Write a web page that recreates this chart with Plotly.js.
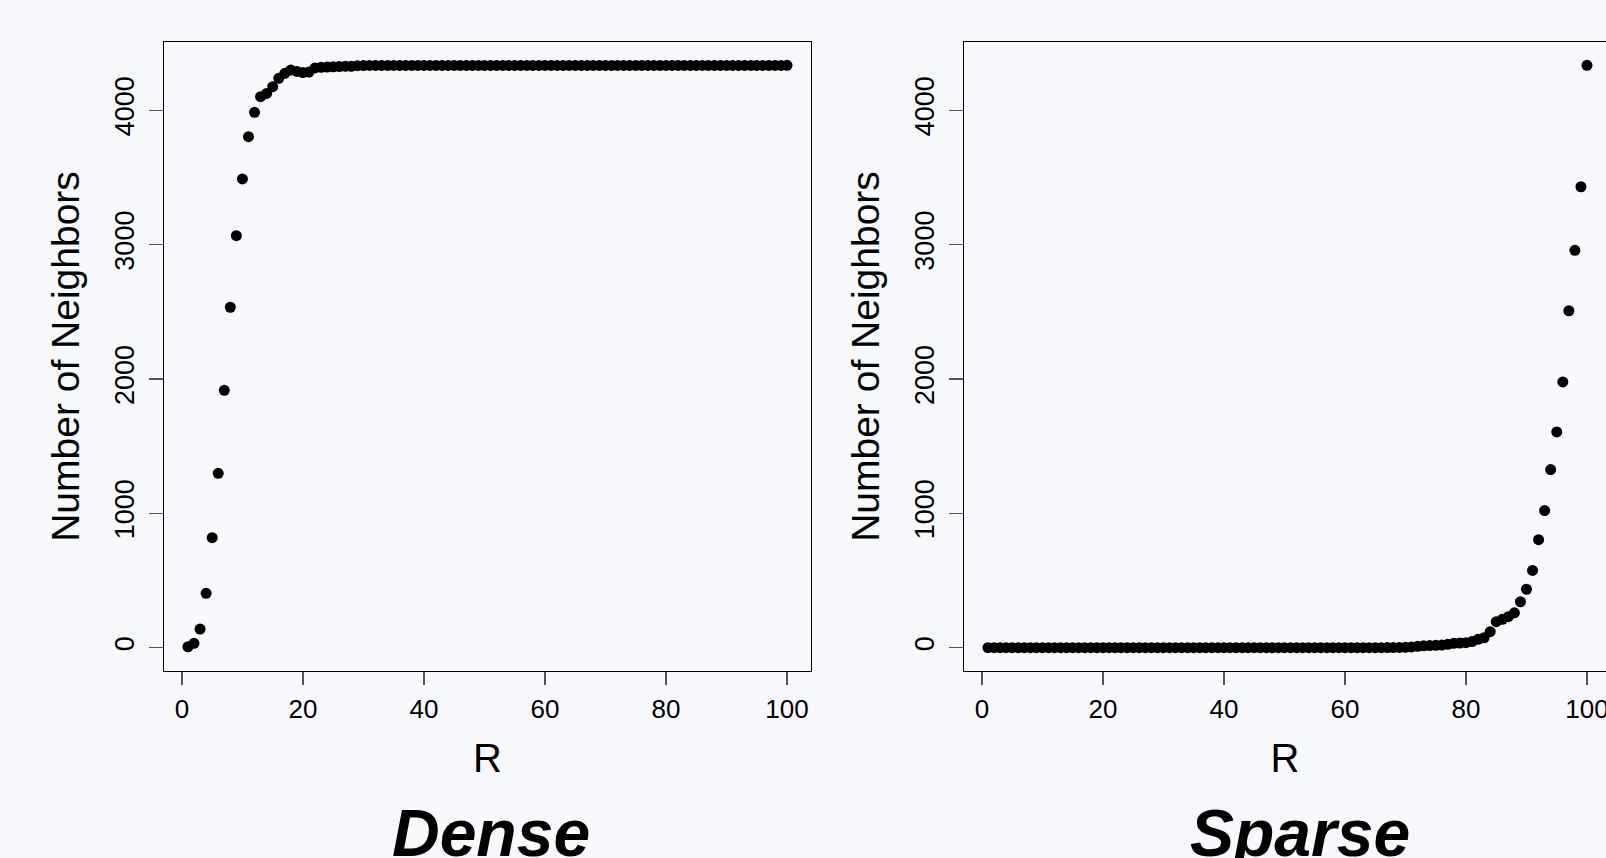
<!DOCTYPE html>
<html>
<head>
<meta charset="utf-8">
<script src="https://cdn.plot.ly/plotly-3.0.1.min.js"></script>
<style>
  html, body { margin: 0; padding: 0; background: #f7f9fc; }
  #chart { width: 1606px; height: 858px; }
</style>
</head>
<body>
<div id="chart"></div>
<script>
// R values (1..100)
const R = [
  1,2,3,4,5,6,7,8,9,10,11,12,13,14,15,16,17,18,19,20,
  21,22,23,24,25,26,27,28,29,30,31,32,33,34,35,36,37,38,39,40,
  41,42,43,44,45,46,47,48,49,50,51,52,53,54,55,56,57,58,59,60,
  61,62,63,64,65,66,67,68,69,70,71,72,73,74,75,76,77,78,79,80,
  81,82,83,84,85,86,87,88,89,90,91,92,93,94,95,96,97,98,99,100
];

// Dense: number of neighbors
const denseNeighbors = [
  7,33,139,405,819,1298,1916,2534,3067,3489,
  3804,3985,4101,4126,4176,4238,4275,4300,4289,4281,
  4285,4315,4320,4322,4324,4326,4327,4328,4332,4333,
  4334,4334,4334,4334,4334,4334,4334,4334,4334,4334,
  4334,4334,4334,4334,4334,4334,4334,4334,4334,4334,
  4334,4334,4334,4334,4334,4334,4334,4334,4334,4334,
  4334,4334,4334,4334,4334,4334,4334,4334,4334,4334,
  4334,4334,4334,4334,4334,4334,4334,4334,4334,4334,
  4334,4334,4334,4334,4334,4334,4334,4334,4334,4334,
  4334,4334,4334,4334,4334,4334,4334,4334,4334,4335
];

// Sparse: number of neighbors
const sparseNeighbors = [
  0,0,0,0,0,0,0,0,0,0,
  0,0,0,0,0,0,0,0,0,0,
  0,0,0,0,0,0,0,0,0,0,
  0,0,0,0,0,0,0,0,0,0,
  0,0,0,0,0,0,0,0,0,0,
  0,0,0,0,0,0,0,0,0,0,
  0,0,0,0,0,0,1,1,2,3,
  6,10,14,16,18,20,25,33,35,37,
  46,62,74,119,194,211,231,260,342,435,
  575,804,1021,1326,1606,1978,2508,2958,3431,4335
];

const xTicks = [0, 20, 40, 60, 80, 100];
const yTicks = [0, 1000, 2000, 3000, 4000];
const xTitle = "R";
const yTitle = "Number of Neighbors";
const panelTitles = ["Dense", "Sparse"];

const W = 1606, H = 858;
const FONT = "Liberation Sans, Arial, Helvetica, sans-serif";
const BG = "#f7f9fc";

const marker = { symbol: "circle", size: 11, color: "#000000", line: { width: 0 } };

const traces = [
  { x: R, y: denseNeighbors, type: "scatter", mode: "markers", marker: marker,
    xaxis: "x", yaxis: "y", hoverinfo: "x+y" },
  { x: R, y: sparseNeighbors, type: "scatter", mode: "markers", marker: marker,
    xaxis: "x2", yaxis: "y2", hoverinfo: "x+y" }
];

const yDomain = [(H - 671) / H, (H - 42) / H];

function xAxis(domain, range, mirror) {
  return {
    domain: domain, range: range, autorange: false,
    tickmode: "array", tickvals: xTicks, ticktext: xTicks.map(String),
    ticks: "outside", ticklen: 13, tickwidth: 1.5, tickcolor: "#555555",
    ticklabelstandoff: 2, ticklabeloverflow: "allow",
    showline: true, linecolor: "#000000", linewidth: 1, mirror: mirror,
    showgrid: false, zeroline: false,
    tickfont: { family: FONT, size: 26, color: "#000000" },
    title: { text: xTitle, font: { family: FONT, size: 40, color: "#000000" }, standoff: 20 },
    automargin: false, fixedrange: true
  };
}
function yAxis(anchor, mirror) {
  return {
    domain: yDomain, range: [-173.4, 4508.4], autorange: false, anchor: anchor,
    tickmode: "array", tickvals: yTicks, ticktext: yTicks.map(String),
    ticks: "outside", ticklen: 14, tickwidth: 1.5, tickcolor: "#555555",
    tickangle: -90, ticklabelstandoff: 4, ticklabeloverflow: "allow",
    showline: true, linecolor: "#000000", linewidth: 1, mirror: mirror,
    showgrid: false, zeroline: false,
    tickfont: { family: FONT, size: 27, color: "#000000" },
    title: { text: yTitle, font: { family: FONT, size: 39, color: "#000000" }, standoff: 18 },
    automargin: false, fixedrange: true
  };
}

const layout = {
  width: W, height: H,
  margin: { l: 0, r: 0, t: 0, b: 0, pad: 0 },
  paper_bgcolor: BG, plot_bgcolor: BG,
  showlegend: false,
  xaxis: Object.assign(xAxis([164 / W, 811 / W], [-2.96, 103.96], true), { anchor: "y" }),
  yaxis: yAxis("x", true),
  xaxis2: Object.assign(xAxis([964 / W, 1], [-2.96, 103.14], true), { anchor: "y2" }),
  yaxis2: yAxis("x2", false),
  annotations: [
    { text: panelTitles[0], xref: "paper", yref: "paper", x: 491 / W, y: (H - 794) / H,
      xanchor: "center", yanchor: "top", showarrow: false,
      font: { family: FONT, size: 66, color: "#000000", weight: 700, style: "italic" } },
    { text: panelTitles[1], xref: "paper", yref: "paper", x: 1300 / W, y: (H - 794) / H,
      xanchor: "center", yanchor: "top", showarrow: false,
      font: { family: FONT, size: 66, color: "#000000", weight: 700, style: "italic" } }
  ]
};

Plotly.newPlot("chart", traces, layout, { displayModeBar: false, staticPlot: true });
</script>
</body>
</html>
